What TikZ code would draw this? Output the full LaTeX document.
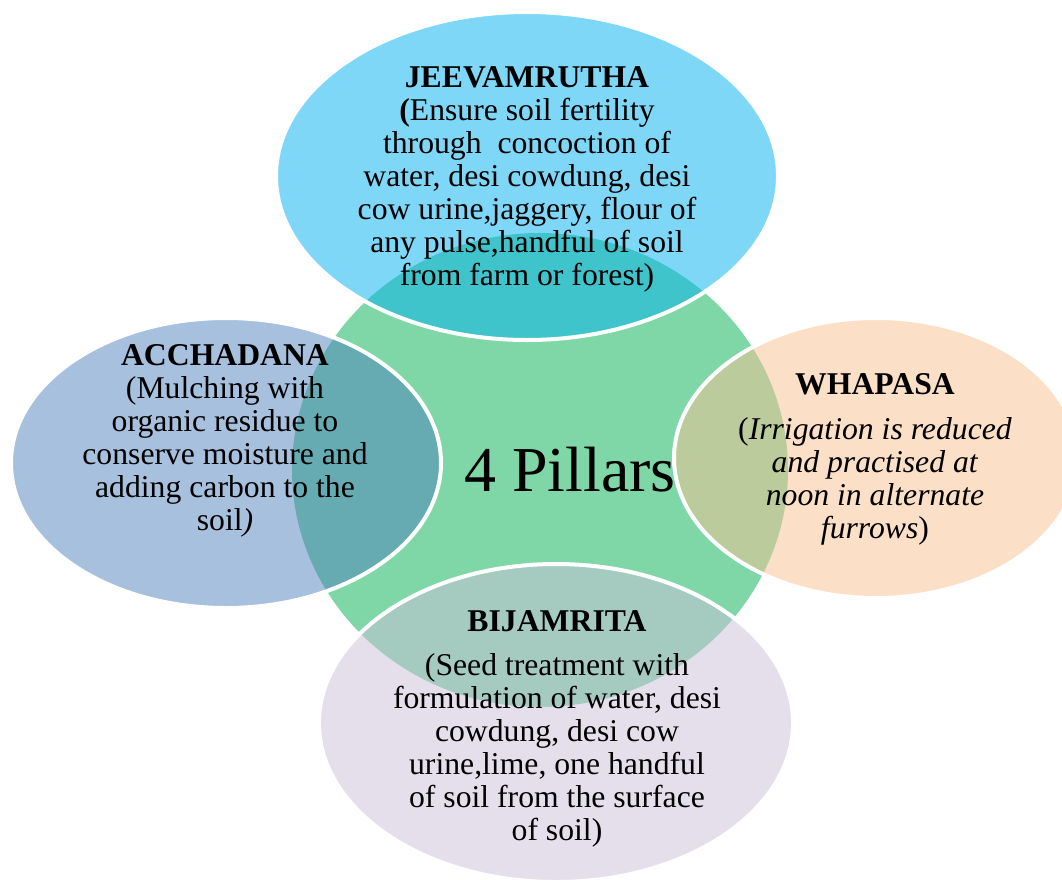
\documentclass[tikz,border=0pt]{standalone}
\usepackage{fontspec}
\setmainfont{Liberation Serif}
\usetikzlibrary{shapes.geometric}
\definecolor{cTop}{RGB}{0,176,240}
\definecolor{cGreen}{RGB}{0,176,80}
\definecolor{cLeft}{RGB}{79,129,189}
\definecolor{cRight}{RGB}{250,191,143}
\definecolor{cBot}{RGB}{204,192,218}
\begin{document}
\begin{tikzpicture}[x=1pt,y=-1pt,
  hubshape/.style={ellipse, fill=cGreen, fill opacity=0.5, inner sep=0pt},
  pillar/.style={ellipse, draw=white, line width=4pt, fill opacity=0.5, inner sep=0pt},
  body/.style={align=center, inner sep=0pt, anchor=north, text=black,
    font=\fontsize{31.7}{33}\selectfont},
]
\useasboundingbox (0,0) rectangle (1062,880);
\node[hubshape, minimum width=496pt, minimum height=474pt] (hub) at (540,470) {};
\node[pillar, fill=cTop, minimum width=502pt, minimum height=328pt] (top) at (527,176) {};
\node[pillar, fill=cLeft, minimum width=430pt, minimum height=290pt] (left) at (226,463) {};
\node[pillar, fill=cRight, minimum width=404pt, minimum height=280pt] (right) at (876,458) {};
\node[pillar, fill=cBot, minimum width=474pt, minimum height=318pt] (bottom) at (556,723) {};

\node[body] (topText) at (527,66) {\textbf{JEEVAMRUTHA}\\\textbf{(}Ensure soil fertility\\through\ \ concoction of\\water, desi cowdung, desi\\cow urine,jaggery, flour of\\any pulse,handful of soil\\from farm or forest)};
\node[body] (leftText) at (225,344) {\textbf{ACCHADANA}\\(Mulching with\\organic residue to\\conserve moisture and\\adding carbon to the\\soil\textit{)}};
\node[body] (rightText) at (875,373) {\textbf{WHAPASA}\\[12.7pt](\textit{Irrigation is reduced}\\\textit{and practised at}\\\textit{noon in alternate}\\\textit{furrows})};
\node[body] (bottomText) at (557,610) {\textbf{BIJAMRITA}\\[11.7pt](Seed treatment with\\formulation of water, desi\\cowdung, desi cow\\urine,lime, one handful\\of soil from the surface\\of soil)};
\node[anchor=base, inner sep=0pt, font=\fontsize{64}{70}\selectfont] (hubText) at (570,491) {4 Pillars};
\end{tikzpicture}
\end{document}
